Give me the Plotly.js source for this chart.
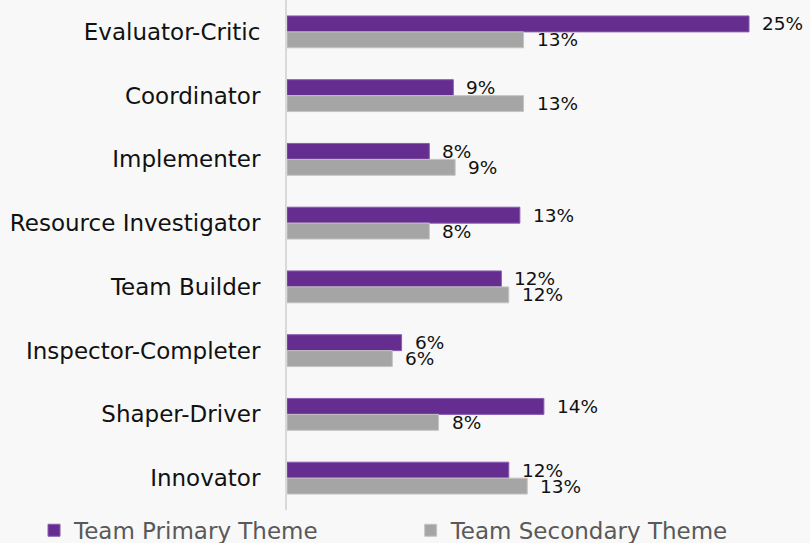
<!DOCTYPE html>
<html><head><meta charset="utf-8">
<script src="https://cdn.plot.ly/plotly-3.0.1.min.js"></script>
<style>html,body{margin:0;padding:0;background:#f8f8f8}</style>
</head><body><div id="chart" style="width:810px;height:543px"></div>
<script>
const categories = ["Evaluator-Critic","Coordinator","Implementer","Resource Investigator","Team Builder","Inspector-Completer","Shaper-Driver","Innovator"];
const primaryName = "Team Primary Theme";
const secondaryName = "Team Secondary Theme";
const primaryValues = [25.0, 9.0, 7.7, 12.6, 11.6, 6.2, 13.9, 12.0];
const secondaryValues = [12.8, 12.8, 9.1, 7.7, 12.0, 5.7, 8.2, 13.0];

const FONT = "DejaVu Sans";
const purple = "#652d90", grey = "#a5a5a5";

const tracePrimary = {type:"bar", orientation:"h", name:primaryName, y:categories, x:primaryValues,
  marker:{color:purple, line:{color:"#8a5cb0", width:1}}, hoverinfo:"x", legend:"legend"};
const traceSecondary = {type:"bar", orientation:"h", name:secondaryName, y:categories, x:secondaryValues,
  marker:{color:grey, line:{color:"#c4c4c4", width:1}}, hoverinfo:"x", legend:"legend2"};

const annotations = [];
categories.forEach((c,i)=>{
  annotations.push({x:primaryValues[i], y:c, xref:"x", yref:"y", text:Math.round(primaryValues[i])+"%",
    showarrow:false, xanchor:"left", yanchor:"middle", xshift:11, yshift:8, font:{family:FONT, size:18.5, color:"#111"}});
  annotations.push({x:secondaryValues[i], y:c, xref:"x", yref:"y", text:Math.round(secondaryValues[i])+"%",
    showarrow:false, xanchor:"left", yanchor:"middle", xshift:11, yshift:-8, font:{family:FONT, size:18.5, color:"#111"}});
});

const legendBase = {orientation:"h", xref:"container", yref:"container", y:0.0, yanchor:"bottom", xanchor:"left",
  font:{family:FONT, size:23, color:"#595959"}, bgcolor:"rgba(0,0,0,0)", borderwidth:0};

const layout = {
  width:810, height:543,
  paper_bgcolor:"#f8f8f8", plot_bgcolor:"#f8f8f8",
  margin:{l:287, r:0, t:0, b:33, autoexpand:false},
  barmode:"group", bargap:0.5, bargroupgap:0,
  font:{family:FONT, color:"#111"},
  xaxis:{range:[0,28.3], showgrid:false, zeroline:false, showticklabels:false, showline:false, fixedrange:true, automargin:false},
  yaxis:{type:"category", autorange:"reversed", showline:true, linecolor:"#d9d9d9", linewidth:2, automargin:false,
    showgrid:false, ticks:"", ticklabelstandoff:20, tickfont:{family:FONT, size:23, color:"#111"}},
  showlegend:true,
  legend:Object.assign({}, legendBase, {x:0.042, yanchor:"top", y:0.063}),
  legend2:Object.assign({}, legendBase, {x:0.507, yanchor:"top", y:0.063}),
  annotations:annotations
};
Plotly.newPlot("chart", [tracePrimary, traceSecondary], layout, {displayModeBar:false, staticPlot:true});
</script></body></html>
